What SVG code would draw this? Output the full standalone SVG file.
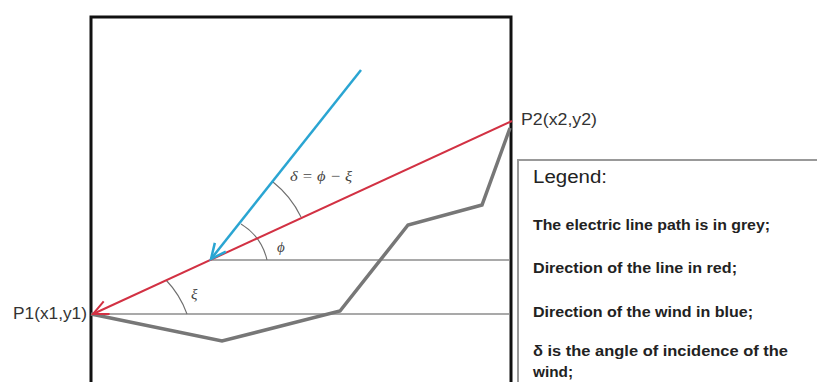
<svg xmlns="http://www.w3.org/2000/svg" width="817" height="382" viewBox="0 0 817 382">
  <defs>
    <style>
      .frame { fill: none; stroke: #111; stroke-width: 3; }
      .ref { fill: none; stroke: #8c8c8c; stroke-width: 1.5; }
      .arc { fill: none; stroke: #6e6e6e; stroke-width: 1.1; }
      .path { fill: none; stroke: #777; stroke-width: 3.5; stroke-linejoin: miter; }
      .red { stroke: #d23143; stroke-width: 2; fill: none; }
      .blue { stroke: #2aa5d2; stroke-width: 2.5; fill: none; }
      .pt { font-family: "Liberation Sans", Arial, sans-serif; font-size: 16px; fill: #333; }
      .math { font-family: "Liberation Serif", "DejaVu Serif", serif; font-style: italic; font-size: 15px; fill: #444; }
      .leg-title { font-family: "Liberation Sans", Arial, sans-serif; font-size: 18px; fill: #222; }
      .leg { font-family: "Liberation Sans", Arial, sans-serif; font-size: 15px; font-weight: bold; fill: #222; }
    </style>
    <marker id="arrRed" markerUnits="userSpaceOnUse" markerWidth="30" markerHeight="30" refX="0" refY="0" viewBox="-20 -10 30 20" orient="auto" overflow="visible">
      <path d="M -15 -7 L 0 0 L -15 7" fill="none" stroke="#d23143" stroke-width="2"/>
    </marker>
    <marker id="arrBlue" markerUnits="userSpaceOnUse" markerWidth="30" markerHeight="30" refX="0" refY="0" viewBox="-20 -10 30 20" orient="auto" overflow="visible">
      <path d="M -15 -7 L 0 0 L -15 7" fill="none" stroke="#2aa5d2" stroke-width="2.5"/>
    </marker>
  </defs>

  <rect width="817" height="382" fill="#fff"/>

  <g id="frame">
    <rect class="frame" x="91" y="17" width="420" height="380"/>
  </g>

  <g id="connectors">
    <line class="ref" x1="210" y1="260" x2="510" y2="260"/>
    <line class="ref" x1="91" y1="314" x2="510" y2="314"/>
    <polyline class="path" points="91,314 222,341 340,311 408,225 482,205 510,128"/>
    <path class="arc" d="M 187 314 A 96 96 0 0 0 166 280"/>
    <path class="arc" d="M 267 260 A 57 57 0 0 0 241 224"/>
    <path class="arc" d="M 301 217 A 100 100 0 0 0 273 182"/>
    <line class="red" x1="512" y1="121" x2="93" y2="314" marker-end="url(#arrRed)"/>
    <line class="blue" x1="361" y1="70" x2="211" y2="259" marker-end="url(#arrBlue)"/>
  </g>

  <g id="labels">
    <text class="math" x="290" y="181" textLength="62" lengthAdjust="spacingAndGlyphs">δ = ϕ − ξ</text>
    <text class="math" x="277" y="252">ϕ</text>
    <text class="math" x="191" y="299">ξ</text>
  </g>

  <g id="P1">
    <text class="pt" x="13" y="319" textLength="74" lengthAdjust="spacingAndGlyphs">P1(x1,y1)</text>
  </g>
  <g id="P2">
    <text class="pt" x="521" y="125" textLength="76" lengthAdjust="spacingAndGlyphs">P2(x2,y2)</text>
  </g>

  <g id="legend">
    <rect x="518" y="160" width="320" height="240" fill="#fff" stroke="#999" stroke-width="2"/>
    <text class="leg-title" x="533" y="183" textLength="74" lengthAdjust="spacingAndGlyphs">Legend:</text>
    <text class="leg" x="533" y="230" textLength="237" lengthAdjust="spacingAndGlyphs">The electric line path is in grey;</text>
    <text class="leg" x="533" y="273" textLength="204" lengthAdjust="spacingAndGlyphs">Direction of the line in red;</text>
    <text class="leg" x="533" y="317" textLength="220" lengthAdjust="spacingAndGlyphs">Direction of the wind in blue;</text>
    <text class="leg" x="533" y="356" textLength="255" lengthAdjust="spacingAndGlyphs">δ is the angle of incidence of the</text>
    <text class="leg" x="533" y="377" textLength="40" lengthAdjust="spacingAndGlyphs">wind;</text>
  </g>
</svg>
